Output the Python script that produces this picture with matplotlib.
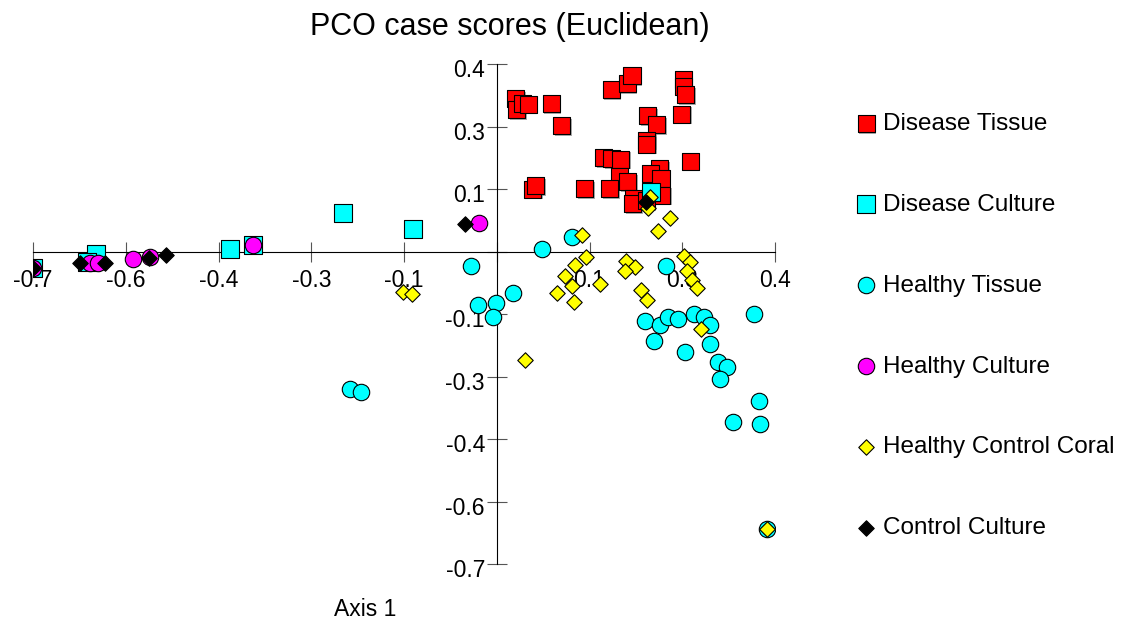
import matplotlib
matplotlib.use("Agg")
import matplotlib.pyplot as plt
import matplotlib.patheffects as pe
from matplotlib.transforms import ScaledTranslation

plt.rcParams['font.family'] = ['Liberation Sans', 'DejaVu Sans']

# ticks: 9 evenly spaced from -0.7 to 0.4, labels rounded like the original
tick_vals = [-0.7, -0.5625, -0.425, -0.2875, -0.15, -0.0125, 0.125, 0.2625, 0.4]
x_labels = ['-0.7', '-0.6', '-0.4', '-0.3', '-0.1', '', '0.1', '0.3', '0.4']
y_labels = ['-0.7', '-0.6', '-0.4', '-0.3', '-0.1', '', '0.1', '0.3', '0.4']
cross = -0.0125

# Disease Tissue
dt_x = [0.016, 0.017, 0.026, 0.034, 0.068, 0.084, 0.157, 0.181, 0.188, 0.264, 0.264, 0.268,
        0.262, 0.211, 0.225, 0.210, 0.210, 0.274, 0.146, 0.158, 0.171, 0.229, 0.215, 0.231,
        0.169, 0.182, 0.118, 0.155, 0.041, 0.045, 0.232, 0.190, 0.189, 0.209]
dt_y = [0.325, 0.300, 0.314, 0.312, 0.313, 0.265, 0.344, 0.358, 0.375, 0.366, 0.352, 0.333,
        0.290, 0.287, 0.267, 0.233, 0.224, 0.187, 0.195, 0.193, 0.191, 0.171, 0.160, 0.149,
        0.153, 0.142, 0.126, 0.127, 0.125, 0.133, 0.112, 0.105, 0.093, 0.100]

# Disease Culture
dc_x = [-0.700, -0.607, -0.620, -0.408, -0.374, -0.240, -0.137, 0.216]
dc_y = [-0.048, -0.017, -0.035, -0.006, 0.002, 0.073, 0.038, 0.120]

# Healthy Tissue
ht_x = [-0.051, 0.055, 0.099, 0.012, -0.013, -0.040, -0.018, 0.239, 0.208, 0.230, 0.241,
        0.256, 0.280, 0.295, 0.304, 0.220, 0.266, 0.304, 0.315, 0.329, 0.318, 0.369, 0.377,
        0.338, 0.378, 0.388, -0.230, -0.214]
ht_y = [-0.044, -0.007, 0.019, -0.103, -0.125, -0.130, -0.155, -0.044, -0.165, -0.174, -0.155,
        -0.161, -0.149, -0.155, -0.174, -0.208, -0.232, -0.216, -0.254, -0.267, -0.293, -0.150,
        -0.340, -0.386, -0.392, -0.623, -0.314, -0.321]

# Healthy Culture
hc_x = [-0.700, -0.616, -0.604, -0.552, -0.527, -0.374, -0.039]
hc_y = [-0.048, -0.037, -0.037, -0.028, -0.024, 0.002, 0.051]

# Healthy Control Coral
hcc_x = [-0.151, -0.138, 0.029, 0.114, 0.120, 0.103, 0.088, 0.099, 0.077, 0.102, 0.141,
         0.179, 0.193, 0.178, 0.202, 0.210, 0.265, 0.274, 0.270, 0.277, 0.284, 0.290, 0.227,
         0.244, 0.215, 0.211, 0.388]
hcc_y = [-0.100, -0.105, -0.251, 0.024, -0.025, -0.042, -0.066, -0.087, -0.104, -0.124, -0.083,
         -0.032, -0.045, -0.054, -0.097, -0.119, -0.022, -0.034, -0.054, -0.075, -0.093, -0.183,
         0.033, 0.061, 0.109, 0.083, -0.623]

# Control Culture
cc_x = [-0.700, -0.630, -0.593, -0.528, -0.503, -0.060, 0.209]
cc_y = [-0.048, -0.037, -0.037, -0.026, -0.020, 0.049, 0.098]

fig = plt.figure(figsize=(11.29, 6.23), dpi=100)
ax = fig.add_axes([33 / 1129, 1 - 564.3 / 623, 742 / 1129, 500 / 623])

shadow = [pe.SimplePatchShadow(offset=(1.2, -1.2), shadow_rgbFace='#888888', alpha=0.7), pe.Normal()]
kw = dict(edgecolors='black', linewidths=0.8)
h1 = ax.scatter(dt_x, dt_y, marker='s', s=150, c='#ff0000', zorder=3, path_effects=shadow, **kw)
h2 = ax.scatter(dc_x, dc_y, marker='s', s=150, c='#00ffff', zorder=4, **kw)
h3 = ax.scatter(ht_x, ht_y, marker='o', s=140, c='#00ffff', zorder=5, **kw)
h4 = ax.scatter(hc_x, hc_y, marker='o', s=140, c='#ff00ff', zorder=6, **kw)
h5 = ax.scatter(hcc_x, hcc_y, marker='D', s=62, c='#ffff00', zorder=7, **kw)
h6 = ax.scatter(cc_x, cc_y, marker='D', s=62, c='black', zorder=8, **kw)

ax.set_xlim(-0.7, 0.4)
ax.set_ylim(-0.7, 0.4)
for s in ['top', 'right']:
    ax.spines[s].set_visible(False)
ax.spines['left'].set_position(('data', cross))
ax.spines['bottom'].set_position(('data', cross))
ax.spines['left'].set_linewidth(0.8)
ax.spines['bottom'].set_linewidth(0.8)
ax.set_xticks(tick_vals)
ax.set_xticklabels(x_labels)
ax.set_yticks(tick_vals)
ax.set_yticklabels(y_labels)
ax.tick_params(axis='both', direction='inout', length=15, width=0.8, color='#555555',
               labelsize=16.5)
ax.tick_params(axis='x', pad=5)
ax.tick_params(axis='y', pad=1)
ax.patch.set_visible(False)
# y labels sit a little below their ticks in the original
down = ScaledTranslation(0, -4 / 100, fig.dpi_scale_trans)
for lab in ax.get_yticklabels():
    lab.set_transform(lab.get_transform() + down)

fig.text(510 / 1129, 1 - 27 / 623, 'PCO case scores (Euclidean)', ha='center', va='center',
         fontsize=22)
fig.text(365 / 1129, 1 - 610 / 623, 'Axis 1', ha='center', va='center', fontsize=16.5)

fig.legend([h1, h2, h3, h4, h5, h6],
           ['Disease Tissue', 'Disease Culture', 'Healthy Tissue', 'Healthy Culture',
            'Healthy Control Coral', 'Control Culture'],
           loc='upper left', bbox_to_anchor=(854 / 1129, 1 - 113 / 623), frameon=False,
           fontsize=17.5, labelspacing=2.42, handletextpad=0.2, handlelength=1.0,
           scatterpoints=1, borderaxespad=0, borderpad=0)

fig.savefig('out.png', dpi=100)
